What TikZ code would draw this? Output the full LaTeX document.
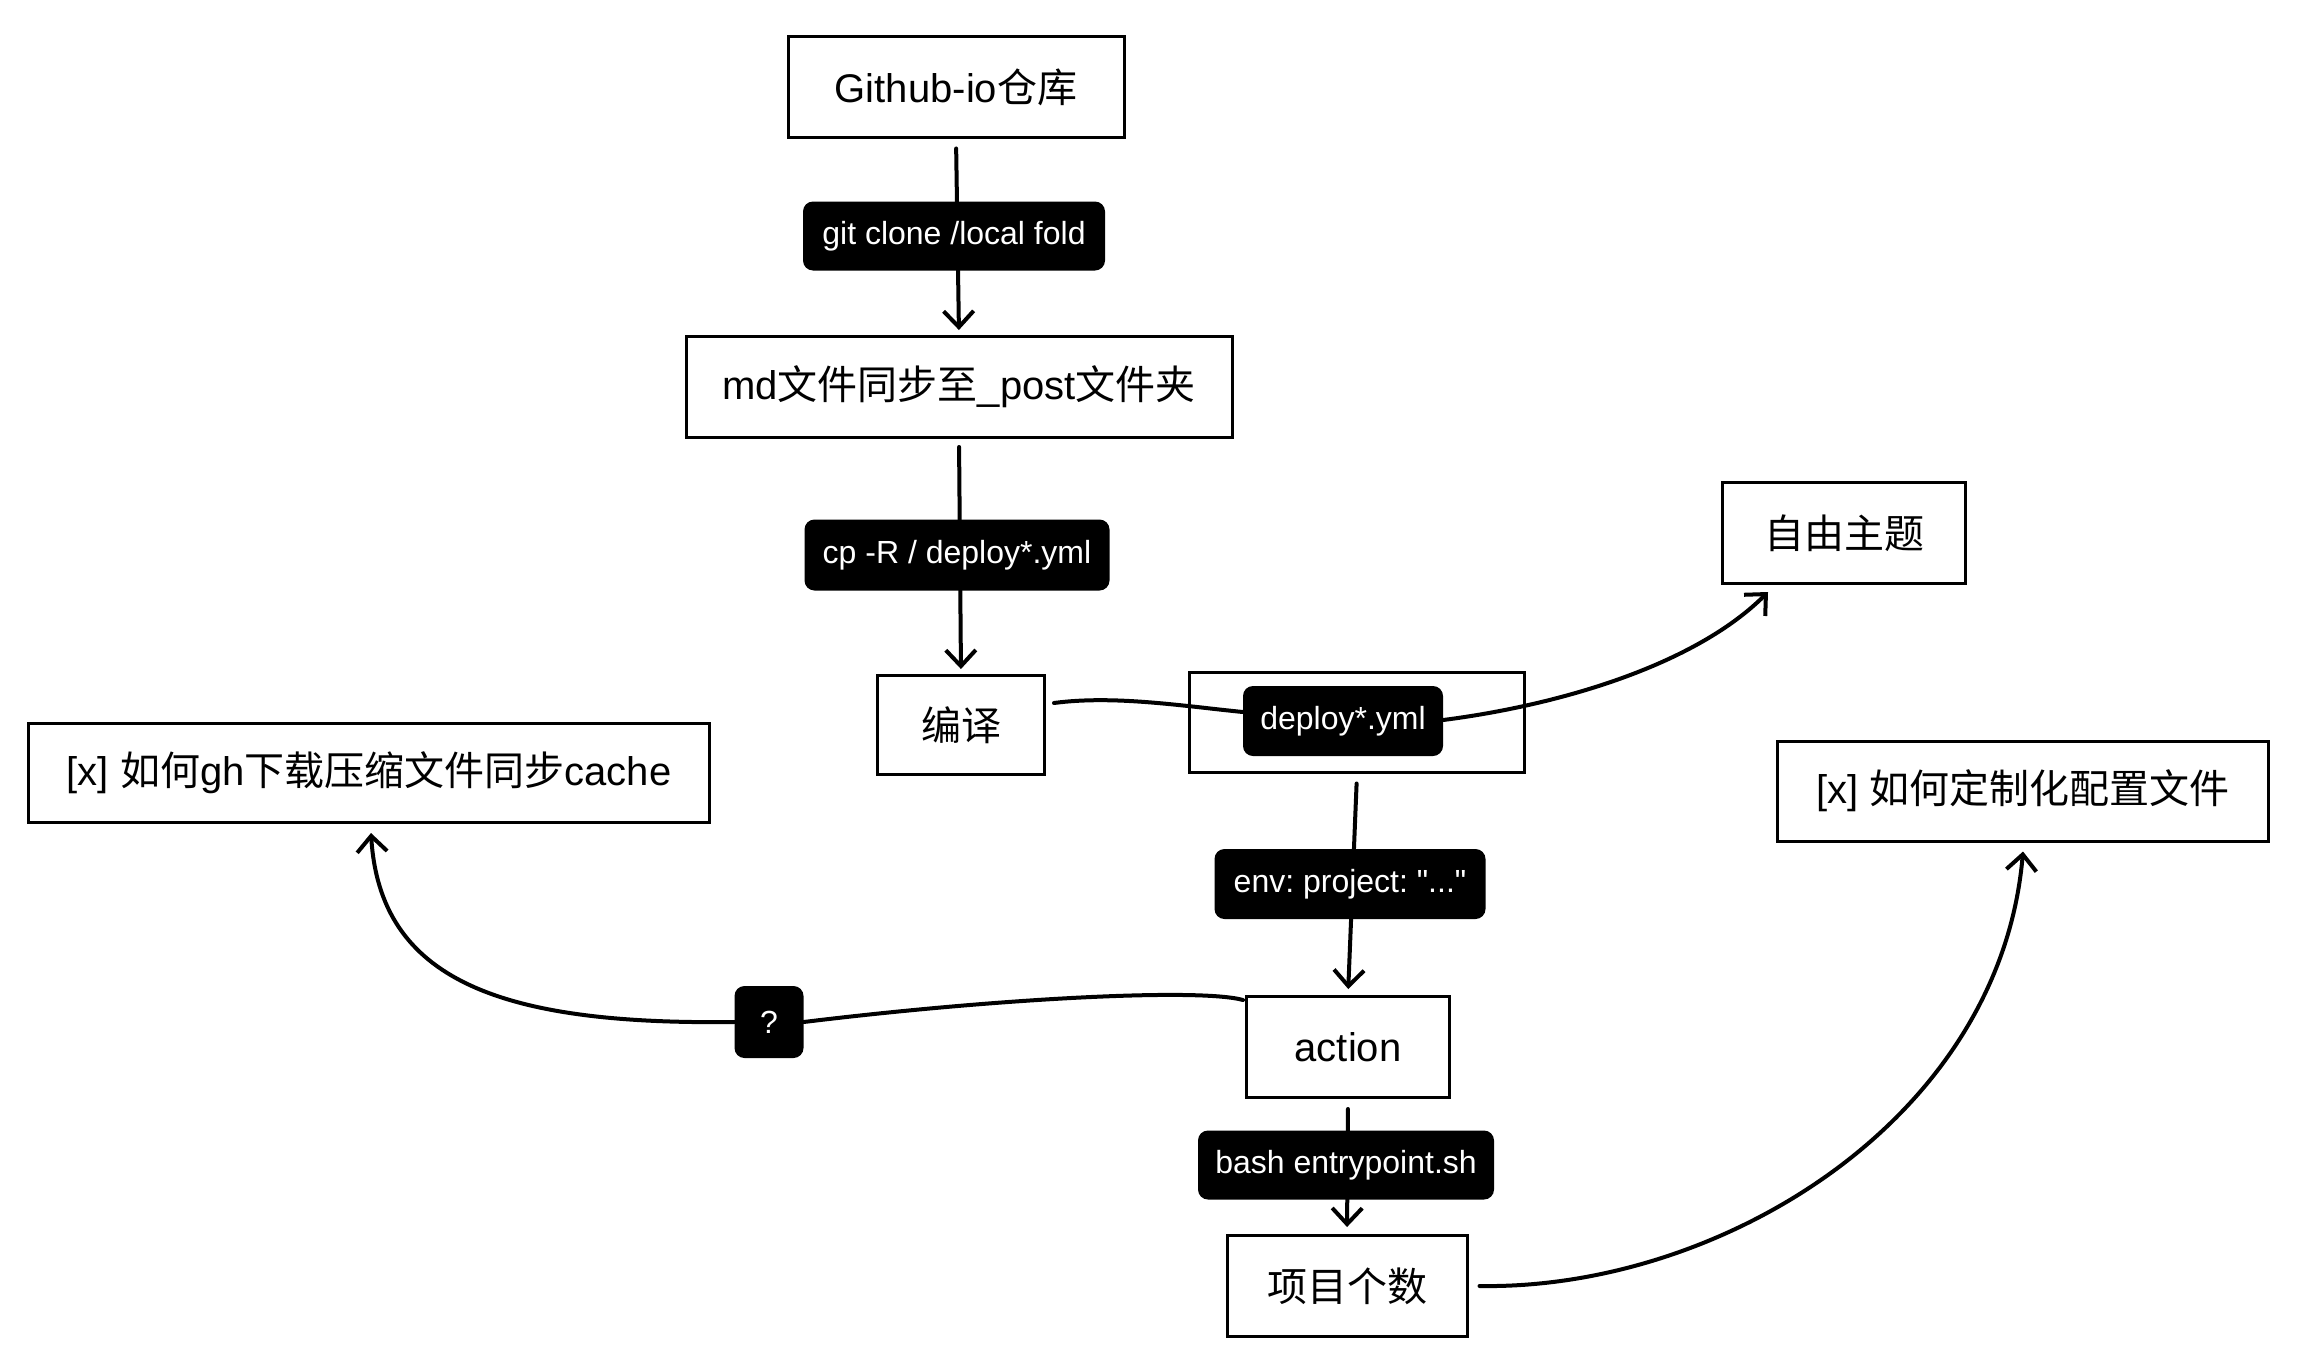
\documentclass[tikz,border=0pt]{standalone}
\usepackage{fontspec}
\setmainfont{Liberation Sans}[Ligatures=TeXOff]
\newfontfamily\cjk{Noto Sans CJK SC}
\usetikzlibrary{arrows.meta,backgrounds}
\frenchspacing
\begin{document}
\begin{tikzpicture}[x=1pt,y=1pt,
  box/.style={draw, line width=3pt, inner sep=0pt, font=\fontsize{40}{46}\selectfont},
  lab/.style={fill=black, text=white, rounded corners=10pt, inner sep=0pt, font=\fontsize{32}{38}\selectfont},
  conn/.style={line width=4pt, line cap=round},
  arr/.style={conn, -{Straight Barb[length=16pt,width=30pt]}}]
\useasboundingbox (0,0) rectangle (2310,-1354);

% boxes
\node[box, minimum width=336pt, minimum height=100pt] (gh) at (956,-87) {Github-io{\cjk 仓库}};
\node[box, minimum width=546pt, minimum height=101pt] (md) at (959,-387) {md{\cjk 文件同步至}\_post{\cjk 文件夹}};
\node[box, minimum width=167pt, minimum height=99pt] (bianyi) at (961,-725) {\cjk 编译};
\node[box, minimum width=335pt, minimum height=100pt] (dbox) at (1357,-722) {};
\node[box, minimum width=243pt, minimum height=101pt] (ziyou) at (1844,-533) {\cjk 自由主题};
\node[box, minimum width=681pt, minimum height=99pt] (ghq) at (369,-773) {[x] {\cjk 如何}gh{\cjk 下载压缩文件同步}cache};
\node[box, minimum width=491pt, minimum height=100pt] (dingzhi) at (2023,-791) {[x] {\cjk 如何定制化配置文件}};
\node[box, minimum width=203pt, minimum height=101pt] (action) at (1348,-1047) {action};
\node[box, minimum width=240pt, minimum height=101pt] (xiangmu) at (1347,-1286) {\cjk 项目个数};

% labels
\node[lab, minimum width=302pt, minimum height=69pt] (clone) at (954,-236) {git clone /local fold};
\node[lab, minimum width=305pt, minimum height=71pt] (cp) at (957,-555) {cp -R / deploy*.yml};
\node[lab, minimum width=200pt, minimum height=70pt] (dlab) at (1343,-721) {deploy*.yml};
\node[lab, minimum width=271pt, minimum height=70pt] (env) at (1350,-884) {env: project: "..."};
\node[lab, minimum width=69pt, minimum height=72pt] (q) at (769,-1022) {?};
\node[lab, minimum width=296pt, minimum height=69pt] (bash) at (1346,-1165) {bash entrypoint.sh};

\begin{pgfonlayer}{background}
\draw[arr, shorten <=10pt, shorten >=5pt] (gh.south) -- (md.north);
\draw[arr, shorten <=8pt, shorten >=5pt] (md.south) -- (bianyi.north);
\draw[conn] ([shift={(8,22)}]bianyi.east) .. controls +(60,8) and +(-60,6) .. ([yshift=9pt]dlab.west);
\draw[arr] ([yshift=1pt]dlab.east) .. controls (1560,-705) and (1695,-665) .. ([xshift=-76pt,yshift=-7pt]ziyou.south);
\draw[arr, shorten <=10pt, shorten >=6pt] (dbox.south) -- (action.north);
\draw[conn] ([shift={(-2,-5)}]action.north west) .. controls (1200,-988) and (1000,-998) .. (q.east);
\draw[arr] (q.west) .. controls (500,-1025) and (380,-980) .. ([shift={(2,-9)}]ghq.south);
\draw[arr, shorten <=10pt, shorten >=7pt] (action.south) -- (xiangmu.north);
\draw[arr] ([xshift=11pt]xiangmu.east) .. controls (1720,-1290) and (2000,-1120) .. ([yshift=-9pt]dingzhi.south);
\end{pgfonlayer}
\end{tikzpicture}
\end{document}
